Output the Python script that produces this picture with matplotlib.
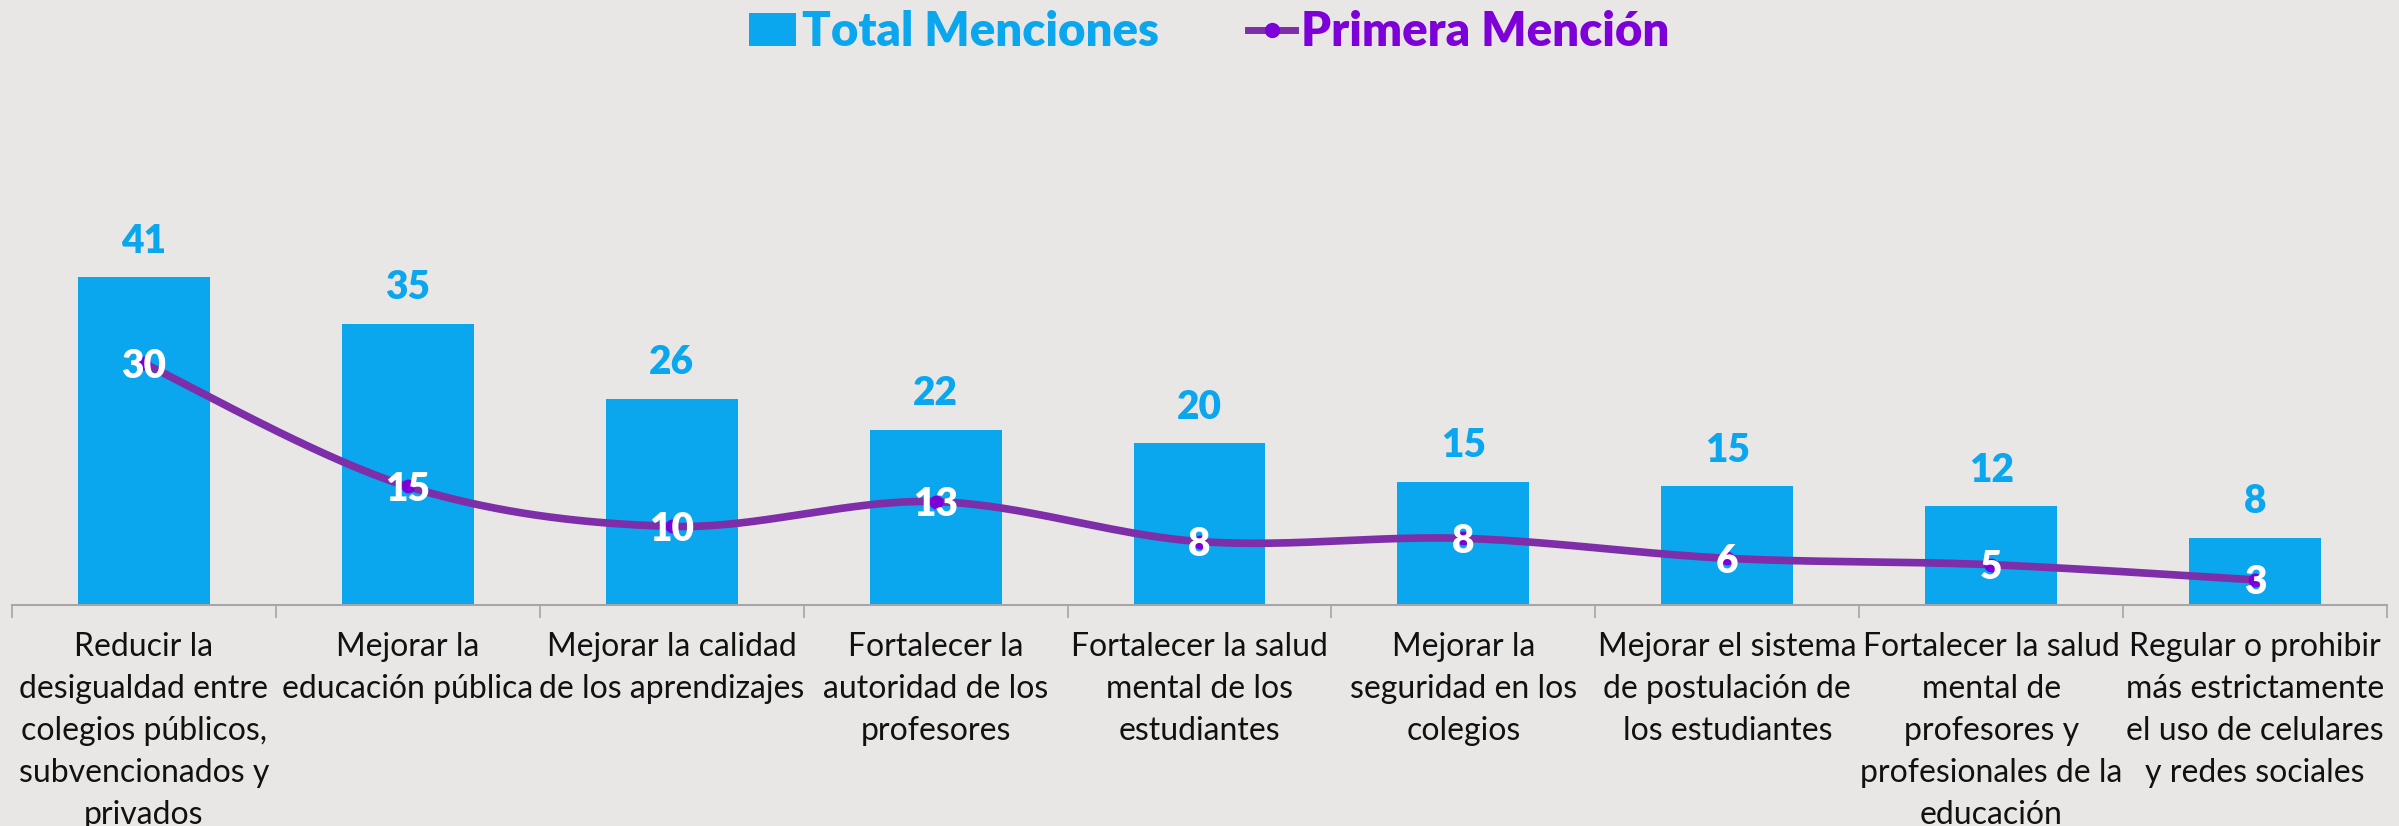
import numpy as np
import matplotlib.pyplot as plt
from matplotlib.patches import Patch
from matplotlib.lines import Line2D

# Data
categories = [
    'Reducir la\ndesigualdad entre\ncolegios públicos,\nsubvencionados y\nprivados',
    'Mejorar la\neducación pública',
    'Mejorar la calidad\nde los aprendizajes',
    'Fortalecer la\nautoridad de los\nprofesores',
    'Fortalecer la salud\nmental de los\nestudiantes',
    'Mejorar la\nseguridad en los\ncolegios',
    'Mejorar el sistema\nde postulación de\nlos estudiantes',
    'Fortalecer la salud\nmental de\nprofesores y\nprofesionales de la\neducación',
    'Regular o prohibir\nmás estrictamente\nel uso de celulares\ny redes sociales',
]
total_menciones = [41, 35.2, 25.8, 21.9, 20.2, 15.4, 14.8, 12.3, 8.4]
primera_mencion = [30.2, 14.8, 9.8, 12.9, 7.9, 8.3, 5.8, 5.0, 3.1]

BLUE = '#0AA6EE'
PURPLE_LINE = '#7D2EA8'
PURPLE = '#7E00D9'
BG = '#E8E7E5'

plt.rcParams['font.family'] = ['Lato', 'DejaVu Sans']

fig = plt.figure(figsize=(23.99, 8.26), dpi=100, facecolor=BG)
ax = fig.add_axes([0.005, 0.268, 0.99, 0.58], facecolor=BG)

x = np.arange(len(categories))
ax.bar(x, total_menciones, width=0.5, color=BLUE, zorder=2)

# smooth line (Catmull-Rom through the points, like Excel's smoothed line)
px = np.concatenate([[x[0]], x, [x[-1]]]).astype(float)
py = np.concatenate([[primera_mencion[0]], primera_mencion, [primera_mencion[-1]]])
sx, sy = [], []
t = np.linspace(0, 1, 40)
for i in range(1, len(px) - 2):
    p0, p1, p2, p3 = [np.array([px[j], py[j]]) for j in (i - 1, i, i + 1, i + 2)]
    for tt in t:
        pt = 0.5 * ((2 * p1) + (-p0 + p2) * tt + (2 * p0 - 5 * p1 + 4 * p2 - p3) * tt**2
                    + (-p0 + 3 * p1 - 3 * p2 + p3) * tt**3)
        sx.append(pt[0])
        sy.append(pt[1])
ax.plot(sx, sy, color=PURPLE_LINE, lw=5.5, solid_capstyle='round', zorder=3)
ax.plot(x, primera_mencion, 'o', color=PURPLE, ms=9, zorder=4)

for xi, v in zip(x, total_menciones):
    ax.annotate(f'{v:.0f}', (xi, v), xytext=(0, 26), textcoords='offset points',
                ha='center', va='center', fontsize=28, fontweight='heavy', color=BLUE)
for xi, v in zip(x, primera_mencion):
    ax.annotate(f'{v:.0f}', (xi, v), xytext=(0, -2), textcoords='offset points',
                ha='center', va='center', fontsize=28, fontweight='heavy', color='white', zorder=5)

ax.set_xlim(-0.5, len(categories) - 0.5)
ax.set_ylim(0, 60)
ax.set_yticks([])
for s in ['top', 'right', 'left']:
    ax.spines[s].set_visible(False)
ax.spines['bottom'].set_color('#A6A6A6')
ax.spines['bottom'].set_linewidth(1.5)

ax.set_xticks(x)
ax.set_xticklabels(categories, fontsize=23, color='#111111', linespacing=1.50, va='top')
ax.tick_params(axis='x', which='major', length=0, pad=20)
ax.set_xticks(np.arange(-0.5, len(categories)), minor=True)
ax.tick_params(axis='x', which='minor', length=9, width=1.2, color='#A6A6A6')

handles = [Patch(facecolor=BLUE, edgecolor='none'),
           Line2D([0], [0], color=PURPLE_LINE, lw=5, marker='o', ms=10,
                  markerfacecolor=PURPLE, markeredgecolor=PURPLE)]
leg = fig.legend(handles, ['Total Menciones', 'Primera Mención'], loc='center',
                 bbox_to_anchor=(0.504, 0.961), ncol=2, frameon=False,
                 prop={'size': 34, 'weight': 'heavy'}, handlelength=1.0, handleheight=0.7,
                 handletextpad=0.12, columnspacing=1.9)
leg.get_texts()[0].set_color(BLUE)
leg.get_texts()[1].set_color(PURPLE)

fig.savefig('out.png', dpi=100, facecolor=BG)
